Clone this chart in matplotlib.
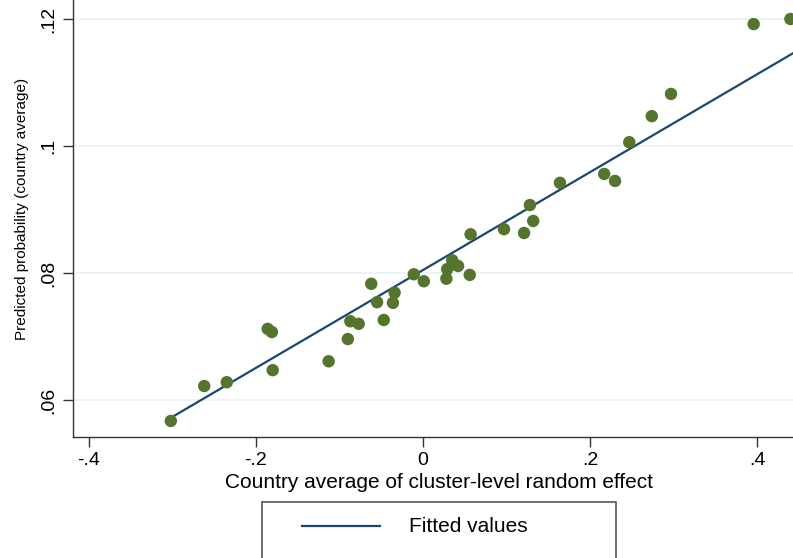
import numpy as np
import matplotlib
matplotlib.use("Agg")
import matplotlib.pyplot as plt
from matplotlib.patches import Rectangle
from matplotlib.lines import Line2D

plt.rcParams['font.family'] = ['Liberation Sans', 'DejaVu Sans']

random_effect = [-0.302, -0.262, -0.235, -0.186, -0.181, -0.180, -0.113, -0.090, -0.087,
                 -0.077, -0.062, -0.055, -0.047, -0.036, -0.034, -0.011, 0.001, 0.028,
                 0.029, 0.035, 0.042, 0.056, 0.057, 0.097, 0.121, 0.128, 0.132, 0.164,
                 0.217, 0.230, 0.247, 0.274, 0.297, 0.396, 0.440]
pred_prob = [0.0567, 0.0622, 0.0628, 0.0712, 0.0707, 0.0647, 0.0661, 0.0696, 0.0724,
             0.0720, 0.0783, 0.0754, 0.0726, 0.0753, 0.0769, 0.0798, 0.0787, 0.0791,
             0.0806, 0.0820, 0.0811, 0.0797, 0.0861, 0.0869, 0.0863, 0.0907, 0.0882,
             0.0942, 0.0956, 0.0945, 0.1006, 0.1047, 0.1082, 0.1192, 0.1200]
fit_x = [-0.302, 0.443]
fit_y = [0.0572, 0.1146]

x_ticks = [-0.4, -0.2, 0.0, 0.2, 0.4]
x_ticklabels = ['-.4', '-.2', '0', '.2', '.4']
y_ticks = [0.06, 0.08, 0.10, 0.12]
y_ticklabels = ['.06', '.08', '.1', '.12']

W, H = 793, 558
fig = plt.figure(figsize=(W / 100, H / 100), dpi=100)
ax = fig.add_axes([73 / W, 1 - 437 / H, 1 - 73 / W, 437 / H])

ax.set_xlim((73 - 423) / 835, (793 - 423) / 835)
ax.set_ylim(0.12 - (437 - 19) / 6350, 0.12 + 19 / 6350)

for yt in y_ticks:
    ax.axhline(yt, color='#eaf2f3', lw=1.2, zorder=0)

ax.plot(fit_x, fit_y, color='#1a476f', lw=1.6, zorder=2)
ax.scatter(random_effect, pred_prob, s=80, color='#55752f', edgecolors='none', zorder=3,
           clip_on=False)

ax.spines['top'].set_visible(False)
ax.spines['right'].set_visible(False)
for s in ['left', 'bottom']:
    ax.spines[s].set_color('#333333')
    ax.spines[s].set_linewidth(1.0)

ax.set_xticks(x_ticks)
ax.set_xticklabels(x_ticklabels)
ax.set_yticks(y_ticks)
ax.set_yticklabels(y_ticklabels, rotation=90, va='center')
ax.tick_params(axis='both', direction='out', length=7, width=1, color='#333333',
               labelsize=14, pad=4)
ax.set_xlabel('Country average of cluster-level random effect', fontsize=15)
ax.xaxis.set_label_coords((439 - 73) / (W - 73), -36 / 437)
ax.set_ylabel('Predicted probability (country average)', fontsize=11)
ax.yaxis.set_label_coords(-44 / (W - 73), (437 - 209) / 437)

# legend box
fig.patches.append(Rectangle((262 / W, -0.1), (616 - 262) / W, 0.1 + 1 - 502 / H,
                             transform=fig.transFigure, facecolor='white',
                             edgecolor='#555555', lw=1.2))
fig.lines.append(Line2D([302 / W, 380 / W], [1 - 526 / H, 1 - 526 / H],
                        transform=fig.transFigure, color='#1a476f', lw=1.6))
fig.text(409 / W, 1 - 526 / H, 'Fitted values', fontsize=15, va='center', ha='left')

fig.savefig('out.png', dpi=100)
